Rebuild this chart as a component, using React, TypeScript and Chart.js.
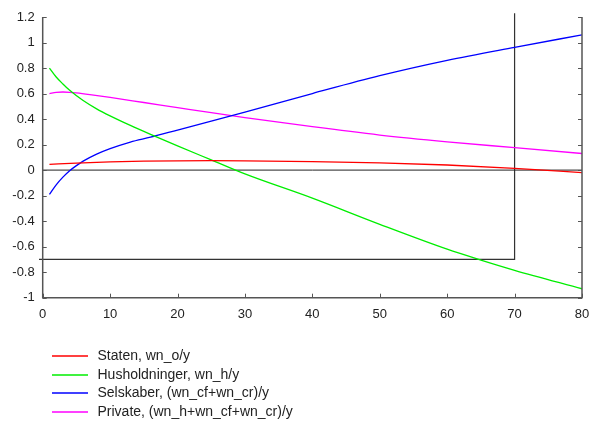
import React, { useEffect, useRef } from "react";
import { Chart, registerables } from "chart.js";

Chart.register(...registerables);

const seriesLabels = [
  "Staten, wn_o/y",
  "Husholdninger, wn_h/y",
  "Selskaber, (wn_cf+wn_cr)/y",
  "Private, (wn_h+wn_cf+wn_cr)/y",
];
const seriesColors = ["#ff0000", "#00ee00", "#0000ff", "#ff00ff"];

const redX = [1, 5, 10, 15, 20, 25, 30, 40, 50, 60, 70, 80];
const redY = [0.045, 0.055, 0.064, 0.07, 0.073, 0.074, 0.073, 0.067, 0.057, 0.04, 0.014, -0.02];

const greenX = [1, 2, 3, 4, 6, 8, 10, 13, 16, 20, 25, 30, 40, 50, 60, 65, 70, 80];
const greenY = [0.8, 0.73, 0.675, 0.625, 0.545, 0.48, 0.425, 0.35, 0.28, 0.19, 0.08, -0.03, -0.22, -0.425, -0.62, -0.705, -0.785, -0.93];

const blueX = [1, 2, 3, 4, 5, 6, 8, 10, 13, 16, 20, 25, 30, 40, 50, 60, 70, 80];
const blueY = [-0.19, -0.115, -0.055, -0.005, 0.035, 0.07, 0.125, 0.168, 0.22, 0.258, 0.314, 0.384, 0.455, 0.6, 0.74, 0.86, 0.962, 1.06];

const magentaX = [1, 2, 3, 4, 5, 7, 10, 15, 20, 25, 30, 40, 50, 60, 70, 80];
const magentaY = [0.6, 0.609, 0.612, 0.61, 0.605, 0.592, 0.57, 0.53, 0.49, 0.45, 0.412, 0.34, 0.275, 0.222, 0.176, 0.13];

const zeroLineX = [0, 80];
const zeroLineY = [0, 0];

const boxX = [-0.55, -0.55, 70, 70];
const boxY = [1.23, -0.7, -0.7, 1.23];

const xTicks = [0, 10, 20, 30, 40, 50, 60, 70, 80];
const yTicks = [-1, -0.8, -0.6, -0.4, -0.2, 0, 0.2, 0.4, 0.6, 0.8, 1, 1.2];

const toPts = (xs: number[], ys: number[]) => xs.map((x, i) => ({ x, y: ys[i] }));

const FONT = "'Liberation Sans', Arial, sans-serif";

const axesPlugin = {
  id: "customAxes",
  afterDatasetsDraw(chart: any) {
    const { ctx, chartArea: a, scales } = chart;
    const xs = scales.x;
    const ys = scales.y;
    ctx.save();
    ctx.strokeStyle = "#555555";
    ctx.lineWidth = 1.5;
    ctx.beginPath();
    ctx.moveTo(a.left, a.top);
    ctx.lineTo(a.left, a.bottom);
    ctx.lineTo(a.right, a.bottom);
    ctx.lineTo(a.right, a.top);
    ctx.stroke();
    ctx.lineWidth = 1;
    ctx.beginPath();
    for (const v of yTicks) {
      const py = Math.round(ys.getPixelForValue(v)) + 0.5;
      ctx.moveTo(a.left, py);
      ctx.lineTo(a.left + 4, py);
      ctx.moveTo(a.right, py);
      ctx.lineTo(a.right - 4, py);
    }
    for (const v of xTicks) {
      const px = Math.round(xs.getPixelForValue(v)) + 0.5;
      ctx.moveTo(px, a.bottom);
      ctx.lineTo(px, a.bottom - 4);
    }
    ctx.stroke();
    ctx.restore();
  },
};

const legendPlugin = {
  id: "customLegend",
  afterDraw(chart: any) {
    const { ctx } = chart;
    ctx.save();
    ctx.font = `14px ${FONT}`;
    ctx.textBaseline = "middle";
    ctx.textAlign = "left";
    chart.data.datasets.slice(0, 4).forEach((ds: any, i: number) => {
      const y = Math.round(356 + i * 18.5);
      ctx.strokeStyle = seriesColors[i];
      ctx.lineWidth = 1.5;
      ctx.beginPath();
      ctx.moveTo(52, y);
      ctx.lineTo(88, y);
      ctx.stroke();
      ctx.fillStyle = "#222222";
      ctx.fillText(ds.label, 97.5, y);
    });
    ctx.restore();
  },
};

export default function App() {
  const ref = useRef<HTMLCanvasElement>(null);
  useEffect(() => {
    document.body.style.margin = "0";
    const xsList = [redX, greenX, blueX, magentaX];
    const ysList = [redY, greenY, blueY, magentaY];
    const datasets: any[] = seriesLabels.map((label, i) => ({
      label,
      data: toPts(xsList[i], ysList[i]),
      borderColor: seriesColors[i],
      borderWidth: 1.3,
      pointRadius: 0,
      cubicInterpolationMode: "monotone",
      fill: false,
    }));
    datasets.push({
      label: "zero",
      data: toPts(zeroLineX, zeroLineY),
      borderColor: "#222222",
      borderWidth: 1,
      pointRadius: 0,
      fill: false,
    });
    datasets.push({
      label: "box",
      data: toPts(boxX, boxY),
      borderColor: "#333333",
      borderWidth: 1.2,
      pointRadius: 0,
      fill: false,
      clip: false,
    });
    const chart = new Chart(ref.current!, {
      type: "line",
      data: { datasets },
      options: {
        animation: false,
        responsive: false,
        layout: { padding: { left: 0, right: 0, top: 17, bottom: 93.3 } },
        plugins: { legend: { display: false }, tooltip: { enabled: false } },
        scales: {
          x: {
            type: "linear",
            min: 0,
            max: 80,
            afterBuildTicks: (s: any) => {
              s.ticks = xTicks.map((v) => ({ value: v }));
            },
            afterFit: (s: any) => {
              s.height = 30;
              s.paddingRight = 7;
            },
            grid: { display: false, drawTicks: false },
            border: { display: false },
            ticks: {
              color: "#222222",
              font: { family: FONT, size: 13 },
              padding: 9,
              maxRotation: 0,
            },
          },
          y: {
            type: "linear",
            min: -1,
            max: 1.2,
            afterBuildTicks: (s: any) => {
              s.ticks = yTicks.map((v) => ({ value: v }));
            },
            afterFit: (s: any) => {
              s.width = 42.7;
            },
            grid: { display: false, drawTicks: false },
            border: { display: false },
            ticks: {
              color: "#222222",
              font: { family: FONT, size: 13 },
              padding: 8,
              callback: (v: any) => String(Number(Number(v).toFixed(1))),
            },
          },
        },
      },
      plugins: [axesPlugin, legendPlugin],
    });
    return () => chart.destroy();
  }, []);
  return (
    <div style={{ width: 589, height: 421 }}>
      <canvas ref={ref} width={589} height={421} style={{ display: "block" }} />
    </div>
  );
}
